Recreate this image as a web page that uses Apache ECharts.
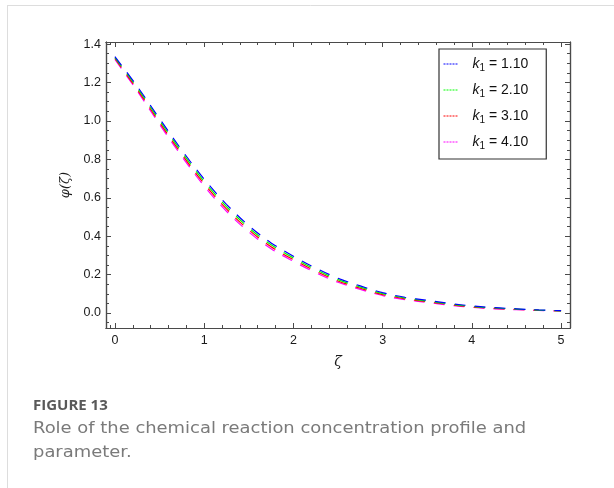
<!DOCTYPE html>
<html>
<head>
<meta charset="utf-8">
<script src="https://cdn.jsdelivr.net/npm/echarts@6/dist/echarts.min.js"></script>
<style>
  html, body { margin: 0; padding: 0; background: #ffffff; }
  #chart { width: 614px; height: 488px; }
</style>
</head>
<body>
<div id="chart"></div>
<script>
// Concentration profile phi(zeta) for four values of the reaction parameter k1
const zeta = [0, 0.25, 0.5, 0.75, 1.0, 1.25, 1.5, 1.75, 2.0, 2.25, 2.5, 2.75, 3.0, 3.25, 3.5, 3.75, 4.0, 4.25, 4.5, 4.75, 5.0];
const phiK110 = [1.335, 1.180, 1.012, 0.848, 0.697, 0.566, 0.455, 0.365, 0.296, 0.234, 0.181, 0.141, 0.106, 0.082, 0.066, 0.050, 0.037, 0.028, 0.022, 0.016, 0.012];
const phiK210 = [1.330, 1.172, 1.002, 0.837, 0.685, 0.554, 0.444, 0.355, 0.287, 0.226, 0.174, 0.135, 0.101, 0.078, 0.0625, 0.047, 0.0345, 0.026, 0.0205, 0.015, 0.0115];
const phiK310 = [1.325, 1.164, 0.992, 0.826, 0.673, 0.542, 0.433, 0.345, 0.278, 0.218, 0.167, 0.129, 0.096, 0.074, 0.059, 0.044, 0.032, 0.024, 0.019, 0.014, 0.011];
const phiK410 = [1.320, 1.156, 0.982, 0.815, 0.661, 0.530, 0.422, 0.335, 0.269, 0.210, 0.160, 0.123, 0.091, 0.070, 0.0555, 0.041, 0.0295, 0.022, 0.0175, 0.013, 0.0105];

const seriesNames = ['1.10', '2.10', '3.10', '4.10'];
const seriesColors = ['#0000ff', '#00ff00', '#ff0000', '#ff00ff'];
const seriesValues = [phiK110, phiK210, phiK310, phiK410];

// Tick positions
const xMajorTicks = [0, 1, 2, 3, 4, 5];
const xMinorTicks = [-0.05, 0.2, 0.4, 0.6, 0.8, 1.2, 1.4, 1.6, 1.8, 2.2, 2.4, 2.6, 2.8, 3.2, 3.4, 3.6, 3.8, 4.2, 4.4, 4.6, 4.8];
const yMajorTicks = [0, 0.2, 0.4, 0.6, 0.8, 1.0, 1.2, 1.4];
const yMinorTicks = [-0.05, 0.05, 0.1, 0.15, 0.25, 0.3, 0.35, 0.45, 0.5, 0.55, 0.65, 0.7, 0.75, 0.85, 0.9, 0.95, 1.05, 1.1, 1.15, 1.25, 1.3, 1.35];

const X_MIN = -0.1, X_MAX = 5.1;
const Y_MIN = -0.078, Y_MAX = 1.411;
const frameColor = '#4a4a4a';
const labelFont = '"Liberation Sans", Arial, sans-serif';

function xAxisDef(position, ticks, len, showLabel) {
  return {
    type: 'value', position: position, min: X_MIN, max: X_MAX,
    axisLine: { show: true, onZero: false, lineStyle: { color: frameColor, width: 1.2 } },
    axisTick: { show: true, inside: true, length: len, customValues: ticks, lineStyle: { color: frameColor, width: 1 } },
    axisLabel: showLabel ? { show: true, customValues: ticks, color: '#1a1a1a', fontSize: 12.5, fontFamily: labelFont, margin: 6, formatter: v => String(v) } : { show: false },
    splitLine: { show: false }
  };
}
function yAxisDef(position, ticks, len, showLabel) {
  return {
    type: 'value', position: position, min: Y_MIN, max: Y_MAX,
    axisLine: { show: true, onZero: false, lineStyle: { color: frameColor, width: 1.2 } },
    axisTick: { show: true, inside: true, length: len, customValues: ticks, lineStyle: { color: frameColor, width: 1 } },
    axisLabel: showLabel ? { show: true, customValues: ticks, color: '#1a1a1a', fontSize: 12.5, fontFamily: labelFont, margin: 5, formatter: v => v.toFixed(1) } : { show: false },
    splitLine: { show: false }
  };
}

const xAxes = [
  Object.assign(xAxisDef('bottom', xMajorTicks, 5, true), {
    name: 'ζ', nameLocation: 'middle', nameGap: 27,
    nameTextStyle: { fontStyle: 'italic', fontSize: 14, color: '#1a1a1a', fontFamily: 'DejaVu Serif, serif' }
  }),
  xAxisDef('bottom', xMinorTicks, 3, false),
  xAxisDef('top', xMajorTicks, 5, false),
  xAxisDef('top', xMinorTicks, 3, false)
];
const yAxes = [
  Object.assign(yAxisDef('left', yMajorTicks, 5, true), {
    name: 'φ(ζ)', nameLocation: 'middle', nameGap: 34, nameRotate: 90,
    nameTextStyle: { fontStyle: 'italic', fontSize: 13, color: '#1a1a1a', fontFamily: 'DejaVu Serif, serif' }
  }),
  yAxisDef('left', yMinorTicks, 3, false),
  yAxisDef('right', yMajorTicks, 5, false),
  yAxisDef('right', yMinorTicks, 3, false)
];

const series = seriesNames.map((name, i) => ({
  name: name,
  type: 'line',
  xAxisIndex: 0,
  yAxisIndex: 0,
  data: zeta.map((z, j) => [z, seriesValues[i][j]]),
  smooth: 0.35,
  symbol: 'none',
  lineStyle: { color: seriesColors[i], width: 1.2, type: [11, 9] },
  itemStyle: { color: seriesColors[i] },
  z: 10 - i
}));

const chart = echarts.init(document.getElementById('chart'), null, { renderer: 'canvas' });
chart.setOption({
  animation: false,
  backgroundColor: '#ffffff',
  grid: { left: 106, top: 42, right: 44, bottom: 160, containLabel: false },
  xAxis: xAxes,
  yAxis: yAxes,
  legend: {
    orient: 'vertical',
    left: 439, top: 49,
    padding: [7, 18, 8, 4],
    itemGap: 9,
    itemWidth: 14, itemHeight: 8,
    borderColor: '#333333', borderWidth: 1.2,
    itemStyle: { opacity: 0 },
    lineStyle: { type: [2, 1], width: 1, opacity: 1 },
    data: seriesNames,
    formatter: name => '{k|k}{s|1}{t| = ' + name + '}',
    textStyle: {
      padding: [0, 0, 0, 10],
      rich: {
        k: { fontStyle: 'italic', fontSize: 14, fontFamily: labelFont, color: '#111', lineHeight: 18 },
        s: { fontSize: 10, fontFamily: labelFont, color: '#111', verticalAlign: 'bottom', padding: [7, 0, 0, 0], lineHeight: 18 },
        t: { fontSize: 14, fontFamily: labelFont, color: '#111', lineHeight: 18 }
      }
    }
  },
  series: series,
  graphic: [
    { type: 'line', shape: { x1: 7, y1: 5.5, x2: 614, y2: 5.5 }, style: { stroke: '#dddddd', lineWidth: 1 } },
    { type: 'line', shape: { x1: 7.5, y1: 5, x2: 7.5, y2: 488 }, style: { stroke: '#dddddd', lineWidth: 1 } },
    { type: 'text', left: 33, top: 398, style: { text: 'FIGURE 13', fill: '#595959', font: 'bold 15px "Open Sans", sans-serif' } },
    { type: 'text', x: 33, y: 421, scaleX: 1.12, style: { text: 'Role of the chemical reaction concentration profile and', fill: '#7a7a7a', font: '16px "DejaVu Sans", sans-serif' } },
    { type: 'text', x: 33, y: 445, scaleX: 1.12, style: { text: 'parameter.', fill: '#7a7a7a', font: '16px "DejaVu Sans", sans-serif' } }
  ]
});
</script>
</body>
</html>
